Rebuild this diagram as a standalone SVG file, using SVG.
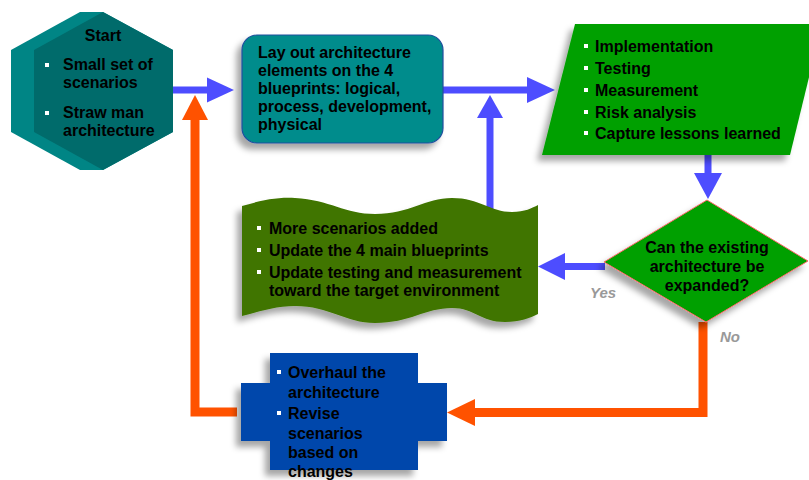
<svg xmlns="http://www.w3.org/2000/svg" width="809" height="480" viewBox="0 0 809 480">
<defs>
<filter id="sh" x="-20%" y="-20%" width="140%" height="150%">
<feDropShadow dx="-5" dy="6" stdDeviation="3" flood-color="#000" flood-opacity="0.35"/>
</filter>
<style>
text{font-family:"Liberation Sans",Arial,sans-serif;font-weight:bold;font-size:16px;fill:#000}
.lbl{fill:#999;font-style:italic;font-size:15px}
.bul{fill:#fff}
.blue{stroke:#4d4dff;stroke-width:7;fill:none}
.blueh{fill:#4d4dff}
.or{stroke:#ff5200;stroke-width:9;fill:none}
.orh{fill:#ff5200}
</style>
</defs>
<g id="connectors">
<path class="or" d="M703,322 V412.5 H475"/>
<polygon class="orh" points="475,399 475,426 447,412.5"/>
<path class="or" d="M237,412 H195 V120"/>
<polygon class="orh" points="182,120 208,120 195,95"/>
<path class="blue" d="M173,90 H208"/>
<polygon class="blueh" points="207,77.5 207,102.5 234,90"/>
<path class="blue" d="M443,90 H528"/>
<polygon class="blueh" points="527,77 527,103 555,90"/>
<path class="blue" d="M490,212 V117"/>
<polygon class="blueh" points="477,118 503,118 490,95"/>
<path class="blue" d="M708,155 V174"/>
<polygon class="blueh" points="694,173 722,173 708,199"/>
<path class="blue" d="M605,266.5 H564"/>
<polygon class="blueh" points="565,253 565,280 538,266.5"/>
<text class="lbl" x="590" y="298">Yes</text>
<text class="lbl" x="720" y="342">No</text>
</g>
<g id="start">
<polygon points="80,12 103,12 173,50 173,132 103,170 80,170 11,132 11,50" fill="#008585"/>
<polygon points="103,12 173,50 173,132 103,170 34,132 34,50" fill="#006b6b"/>
<text x="103" y="41" text-anchor="middle">Start</text>
<rect class="bul" x="45" y="63" width="4" height="4"/>
<text x="63" y="70">Small set of</text>
<text x="63" y="88">scenarios</text>
<rect class="bul" x="45" y="111" width="4" height="4"/>
<text x="63" y="118">Straw man</text>
<text x="63" y="136">architecture</text>
</g>
<g id="layout">
<rect x="242" y="35" width="201" height="108" rx="15" fill="#008c8c" stroke="#1f4e9e" stroke-width="1.2" filter="url(#sh)"/>
<text x="258" y="58">Lay out architecture</text>
<text x="258" y="76">elements on the 4</text>
<text x="258" y="94">blueprints: logical,</text>
<text x="258" y="112">process, development,</text>
<text x="258" y="130">physical</text>
</g>
<g id="implementation">
<polygon points="575,24 822,24 790,155 542,155" fill="#00a000" filter="url(#sh)"/>
<rect class="bul" x="584" y="44" width="4" height="4"/>
<text x="595" y="52">Implementation</text>
<rect class="bul" x="584" y="66" width="4" height="4"/>
<text x="595" y="74">Testing</text>
<rect class="bul" x="584" y="88" width="4" height="4"/>
<text x="595" y="96">Measurement</text>
<rect class="bul" x="584" y="110" width="4" height="4"/>
<text x="595" y="118">Risk analysis</text>
<rect class="bul" x="584" y="131" width="4" height="4"/>
<text x="595" y="139">Capture lessons learned</text>
</g>
<g id="decision">
<polygon points="707,200 808,261 706,322 604,262" fill="#00a000" stroke="#ff6a6a" stroke-width="1" filter="url(#sh)"/>
<text x="707" y="253" text-anchor="middle">Can the existing</text>
<text x="707" y="272" text-anchor="middle">architecture be</text>
<text x="707" y="291" text-anchor="middle">expanded?</text>
</g>
<g id="more">
<path d="M242,206 C262,200 278,197 295,198 C330,200 345,214 375,214 C410,214 425,198 452,198 C480,198 490,212 512,212 C525,212 532,208 538,205 V314 C530,318 520,322 505,322 C480,322 475,308 452,308 C425,308 410,323 375,323 C345,323 330,306 295,306 C275,306 258,312 242,316 Z" fill="#3f7400" filter="url(#sh)"/>
<rect class="bul" x="257" y="226" width="4" height="4"/>
<text x="269" y="234">More scenarios added</text>
<rect class="bul" x="257" y="248" width="4" height="4"/>
<text x="269" y="256">Update the 4 main blueprints</text>
<rect class="bul" x="257" y="270" width="4" height="4"/>
<text x="269" y="278">Update testing and measurement</text>
<text x="269" y="296">toward the target environment</text>
</g>
<g id="overhaul">
<path d="M270,353 H418 V383 H447 V441 H418 V470 H270 V441 H241 V383 H270 Z" fill="#0047ab" filter="url(#sh)"/>
<rect class="bul" x="277" y="370" width="4" height="4"/>
<text x="288" y="378">Overhaul the</text>
<text x="288" y="398">architecture</text>
<rect class="bul" x="277" y="411" width="4" height="4"/>
<text x="288" y="419">Revise</text>
<text x="288" y="439">scenarios</text>
<text x="288" y="458">based on</text>
<text x="288" y="477">changes</text>
</g>
</svg>
